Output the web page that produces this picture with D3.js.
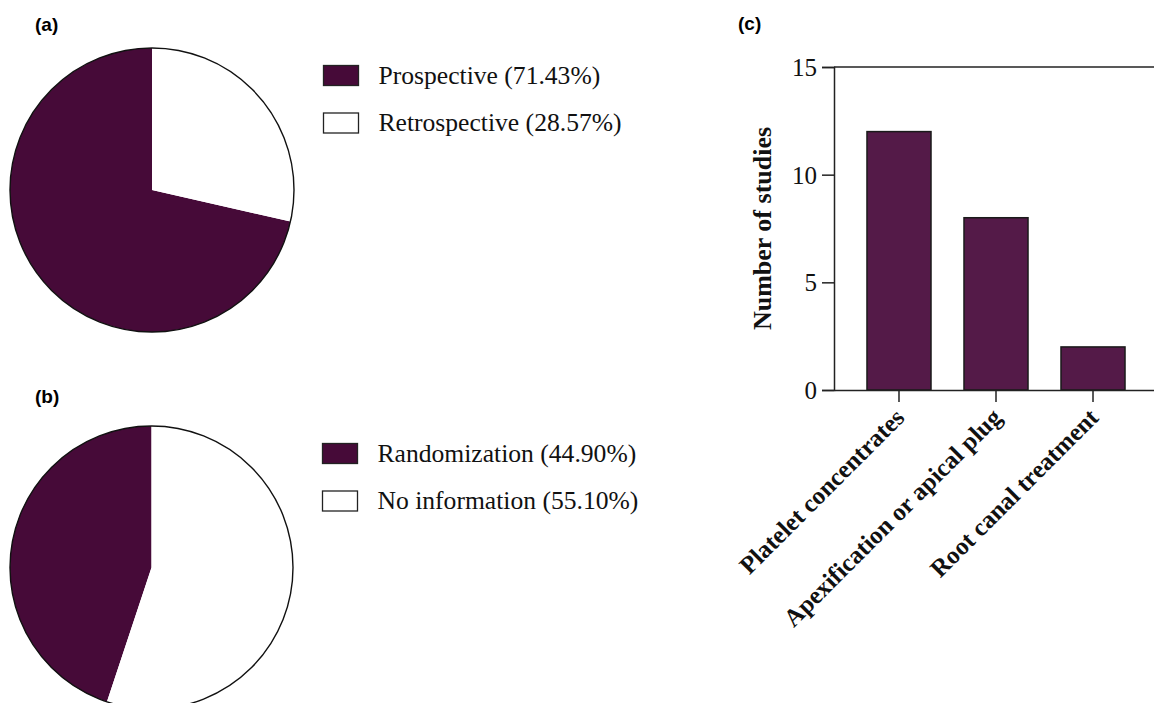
<!DOCTYPE html>
<html>
<head>
<meta charset="utf-8">
<script src="https://cdn.jsdelivr.net/npm/d3@7"></script>
<style>
  html, body { margin: 0; padding: 0; background: #fff; }
  svg { display: block; }
</style>
</head>
<body>
<svg id="fig" width="1154" height="703"></svg>
<script>
// Panel (a): study design
const designLabels = ["Prospective", "Retrospective"];
const designShares = [71.43, 28.57];

// Panel (b): randomization reporting
const randLabels = ["Randomization", "No information"];
const randShares = [44.90, 55.10];

// Panel (c): number of studies per treatment
const treatments = ["Platelet concentrates", "Apexification or apical plug", "Root canal treatment"];
const studyCounts = [12, 8, 2];
const countTicks = [0, 5, 10, 15];

const pieFill = ["#460a38", "#ffffff"];
const barFill = "#541a48";
const serif = "'Liberation Serif', 'Times New Roman', serif";
const sans = "'Liberation Sans', Arial, sans-serif";

const svg = d3.select("#fig");
svg.append("rect").attr("width", 1154).attr("height", 703).attr("fill", "#fff");

function panelLabel(text, x, y) {
  svg.append("text").attr("x", x).attr("y", y)
    .attr("font-family", sans).attr("font-weight", "bold").attr("font-size", 19)
    .text(text);
}

function drawPie(cx, cy, r, labels, shares, legendX, legendY) {
  // first slice runs counter-clockwise from 12 o'clock, the rest fills clockwise
  const start = -2 * Math.PI * shares[0] / d3.sum(shares);
  const pie = d3.pie().sort(null).startAngle(start).endAngle(start + 2 * Math.PI);
  const arc = d3.arc().innerRadius(0).outerRadius(r);
  const g = svg.append("g").attr("transform", `translate(${cx},${cy})`);
  g.selectAll("path.slice").data(pie(shares)).join("path")
    .attr("class", "slice")
    .attr("d", arc)
    .attr("fill", (d, i) => pieFill[i]);
  g.append("circle").attr("r", r).attr("fill", "none")
    .attr("stroke", "#111").attr("stroke-width", 1.4);

  const lg = svg.append("g").attr("transform", `translate(${legendX},${legendY})`);
  const items = lg.selectAll("g").data(labels).join("g")
    .attr("transform", (d, i) => `translate(0,${i * 47.5})`);
  items.append("rect").attr("x", 0).attr("y", 0).attr("width", 35).attr("height", 20)
    .attr("fill", (d, i) => pieFill[i]).attr("stroke", "#222").attr("stroke-width", 1.3);
  items.append("text").attr("x", 55).attr("y", 18)
    .attr("font-family", serif).attr("font-size", 25.6).attr("fill", "#111")
    .text((d, i) => `${d} (${shares[i].toFixed(2)}%)`);
}

panelLabel("(a)", 35, 31);
drawPie(152, 190, 142, designLabels, designShares, 323.5, 65.5);

panelLabel("(b)", 35, 403);
drawPie(151.5, 567.5, 141.5, randLabels, randShares, 322.5, 443.5);

panelLabel("(c)", 738, 30);

// Bar chart
const x = d3.scaleBand().domain(treatments).range([834, 1158]).padding(0.34);
const y = d3.scaleLinear().domain([0, 15]).range([390, 67]);

const bars = svg.append("g");
bars.selectAll("rect").data(studyCounts).join("rect")
  .attr("x", (d, i) => x(treatments[i]))
  .attr("y", d => y(d))
  .attr("width", x.bandwidth())
  .attr("height", d => y(0) - y(d))
  .attr("fill", barFill)
  .attr("stroke", "#1a1a1a").attr("stroke-width", 1.5);

// frame line at the top of the value range
svg.append("line").attr("x1", 834).attr("x2", 1158)
  .attr("y1", y(15)).attr("y2", y(15))
  .attr("stroke", "#222").attr("stroke-width", 1.5);

const yAxis = svg.append("g").attr("transform", "translate(834,0)")
  .call(d3.axisLeft(y).tickValues(countTicks).tickSize(12).tickPadding(5).tickFormat(d3.format("d")));
yAxis.select(".domain").attr("stroke", "#222").attr("stroke-width", 1.5);
yAxis.selectAll(".tick line").attr("stroke", "#222").attr("stroke-width", 1.5);
yAxis.selectAll(".tick text").attr("font-family", serif).attr("font-size", 25)
  .attr("fill", "#111").attr("dy", "0.34em");

const xAxis = svg.append("g").attr("transform", "translate(0,390)")
  .call(d3.axisBottom(x).tickSize(12).tickSizeOuter(0));
xAxis.select(".domain").attr("stroke", "#222").attr("stroke-width", 1.5);
xAxis.selectAll(".tick line").attr("stroke", "#222").attr("stroke-width", 1.5);
xAxis.selectAll(".tick text")
  .attr("font-family", serif).attr("font-weight", "bold").attr("font-size", 25)
  .attr("fill", "#111")
  .attr("text-anchor", "end")
  .attr("y", 0).attr("dy", 0)
  .attr("transform", "translate(7,29) rotate(-45)");

svg.append("text")
  .attr("transform", `translate(771,${(y(0) + y(15)) / 2}) rotate(-90)`)
  .attr("text-anchor", "middle")
  .attr("font-family", serif).attr("font-weight", "bold").attr("font-size", 26)
  .attr("fill", "#111")
  .text("Number of studies");
</script>
</body>
</html>
